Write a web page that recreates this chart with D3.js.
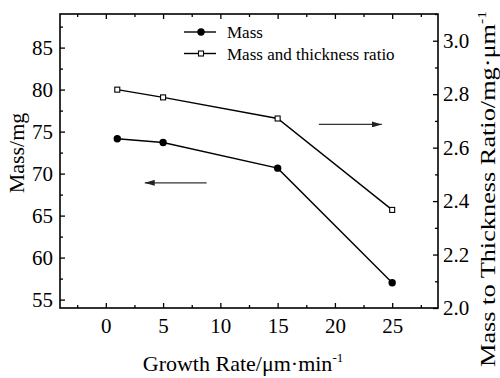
<!DOCTYPE html>
<html>
<head>
<meta charset="utf-8">
<script src="https://cdn.jsdelivr.net/npm/d3@7"></script>
<style>
  body { margin: 0; background: #fff; }
  svg text { font-family: "Liberation Serif", "Times New Roman", serif; fill: #000; }
</style>
</head>
<body>
<div id="chart"></div>
<script>
var canvasWidth = 500;
var canvasHeight = 378;

/*Data*/
var growthRate = [1, 5, 15, 25];
var massValues = [74.15, 73.7, 70.65, 57.0];
var ratioValues = [2.817, 2.788, 2.709, 2.367];
var seriesNames = ["Mass", "Mass and thickness ratio"];

var xTicks = [0, 5, 10, 15, 20, 25];
var massTicks = [55, 60, 65, 70, 75, 80, 85];
var ratioTicks = [2.0, 2.2, 2.4, 2.6, 2.8, 3.0];

/*Plot frame*/
var plotLeft = 60, plotRight = 438, plotTop = 14, plotBottom = 308;
var serif = "'Liberation Serif', 'Times New Roman', serif";

var svg = d3.select("#chart").append("svg")
    .attr("width", canvasWidth)
    .attr("height", canvasHeight)
    .attr("font-family", serif);

var xScale = d3.scaleLinear().domain([-4, 29]).range([plotLeft, plotRight]);
var yMass = d3.scaleLinear().domain([54, 89]).range([plotBottom, plotTop]);
var yRatio = d3.scaleLinear().domain([2.0, 3.1]).range([plotBottom, plotTop]);

function minors(ticks, step) {
    return ticks.map(function (t) { return t + step / 2; });
}
function tidy(g) {
    g.select(".domain").remove();
    g.attr("font-family", serif).attr("font-size", 21);
}

/*X axis bottom*/
svg.append("g")
    .attr("transform", "translate(0," + plotBottom + ")")
    .call(d3.axisBottom(xScale).tickValues(xTicks).tickSize(-5).tickPadding(10).tickFormat(d3.format("d")))
    .call(tidy);
svg.append("g")
    .attr("transform", "translate(0," + plotBottom + ")")
    .call(d3.axisBottom(xScale).tickValues([-2.5].concat(minors(xTicks, 5))).tickSize(-3).tickFormat(""))
    .call(tidy);

/*X axis top (ticks only)*/
svg.append("g")
    .attr("transform", "translate(0," + plotTop + ")")
    .call(d3.axisTop(xScale).tickValues(xTicks).tickSize(-5).tickFormat(""))
    .call(tidy);
svg.append("g")
    .attr("transform", "translate(0," + plotTop + ")")
    .call(d3.axisTop(xScale).tickValues([-2.5].concat(minors(xTicks, 5))).tickSize(-3).tickFormat(""))
    .call(tidy);

/*Left axis*/
svg.append("g")
    .attr("transform", "translate(" + plotLeft + ",0)")
    .call(d3.axisLeft(yMass).tickValues(massTicks).tickSize(-5).tickPadding(7))
    .call(tidy);
svg.append("g")
    .attr("transform", "translate(" + plotLeft + ",0)")
    .call(d3.axisLeft(yMass).tickValues(minors(massTicks, 5)).tickSize(-3).tickFormat(""))
    .call(tidy);

/*Right axis*/
svg.append("g")
    .attr("transform", "translate(" + plotRight + ",0)")
    .call(d3.axisRight(yRatio).tickValues(ratioTicks).tickSize(-5).tickPadding(5).tickFormat(d3.format(".1f")))
    .call(tidy);
svg.append("g")
    .attr("transform", "translate(" + plotRight + ",0)")
    .call(d3.axisRight(yRatio).tickValues(minors(ratioTicks, 0.2)).tickSize(-3).tickFormat(""))
    .call(tidy);

svg.selectAll(".tick line").attr("stroke", "#000").attr("stroke-width", 1.3);

/*Frame*/
svg.append("rect")
    .attr("x", plotLeft).attr("y", plotTop)
    .attr("width", plotRight - plotLeft).attr("height", plotBottom - plotTop)
    .attr("fill", "none").attr("stroke", "#000").attr("stroke-width", 1.6);

/*Axis titles*/
var xTitle = svg.append("text")
    .attr("x", 243).attr("y", 371)
    .attr("text-anchor", "middle")
    .style("font-size", "22px")
    .text("Growth Rate/\u03bcm\u00b7min");
xTitle.append("tspan").attr("dy", -9).style("font-size", "13px").text("-1");

svg.append("text")
    .attr("transform", "translate(24,153) rotate(-90)")
    .attr("text-anchor", "middle")
    .style("font-size", "22px")
    .text("Mass/mg");

var rTitle = svg.append("text")
    .attr("transform", "translate(495,189) rotate(-90)")
    .attr("text-anchor", "middle")
    .attr("textLength", 356)
    .attr("lengthAdjust", "spacingAndGlyphs")
    .style("font-size", "22px")
    .text("Mass to Thickness Ratio/mg\u00b7\u03bcm");
rTitle.append("tspan").attr("dy", -9).style("font-size", "13px").text("-1");

/*Series lines*/
var massLine = d3.line()
    .x(function (d, i) { return xScale(growthRate[i]); })
    .y(function (d) { return yMass(d); });
var ratioLine = d3.line()
    .x(function (d, i) { return xScale(growthRate[i]); })
    .y(function (d) { return yRatio(d); });

svg.append("path")
    .attr("d", massLine(massValues))
    .attr("fill", "none").attr("stroke", "#000").attr("stroke-width", 1.4);
svg.append("path")
    .attr("d", ratioLine(ratioValues))
    .attr("fill", "none").attr("stroke", "#000").attr("stroke-width", 1.4);

svg.selectAll(".massPt")
    .data(massValues)
    .join("circle")
    .attr("cx", function (d, i) { return xScale(growthRate[i]); })
    .attr("cy", function (d) { return yMass(d); })
    .attr("r", 3.7)
    .attr("fill", "#000");

svg.selectAll(".ratioPt")
    .data(ratioValues)
    .join("rect")
    .attr("x", function (d, i) { return xScale(growthRate[i]) - 2.5; })
    .attr("y", function (d) { return yRatio(d) - 2.5; })
    .attr("width", 5).attr("height", 5)
    .attr("fill", "#fff").attr("stroke", "#000").attr("stroke-width", 1.1);

/*Arrows pointing to each series' axis*/
svg.append("defs").append("marker")
    .attr("id", "head")
    .attr("viewBox", "0 0 10 6")
    .attr("refX", 10).attr("refY", 3)
    .attr("markerWidth", 10).attr("markerHeight", 6)
    .attr("markerUnits", "userSpaceOnUse")
    .attr("orient", "auto")
    .append("path").attr("d", "M0,0L10,3L0,6Z").attr("fill", "#222");

svg.append("line")
    .attr("x1", xScale(8.8)).attr("x2", xScale(3.4))
    .attr("y1", yMass(68.9)).attr("y2", yMass(68.9))
    .attr("stroke", "#333").attr("stroke-width", 1.3)
    .attr("marker-end", "url(#head)");
svg.append("line")
    .attr("x1", xScale(18.6)).attr("x2", xScale(24.1))
    .attr("y1", yRatio(2.687)).attr("y2", yRatio(2.687))
    .attr("stroke", "#333").attr("stroke-width", 1.3)
    .attr("marker-end", "url(#head)");

/*Legend*/
var legend = svg.append("g").attr("transform", "translate(184,32)");
seriesNames.forEach(function (name, i) {
    var row = legend.append("g").attr("transform", "translate(0," + (i * 21.5) + ")");
    row.append("line").attr("x1", 0).attr("x2", 32).attr("y1", 0).attr("y2", 0)
        .attr("stroke", "#000").attr("stroke-width", 1.4);
    if (i === 0) {
        row.append("circle").attr("cx", 17).attr("cy", 0).attr("r", 3.7).attr("fill", "#000");
    } else {
        row.append("rect").attr("x", 14.5).attr("y", -2.5).attr("width", 5).attr("height", 5)
            .attr("fill", "#fff").attr("stroke", "#000").attr("stroke-width", 1.1);
    }
    row.append("text").attr("x", 43).attr("y", 6).style("font-size", "17px").text(name);
});
</script>
</body>
</html>
